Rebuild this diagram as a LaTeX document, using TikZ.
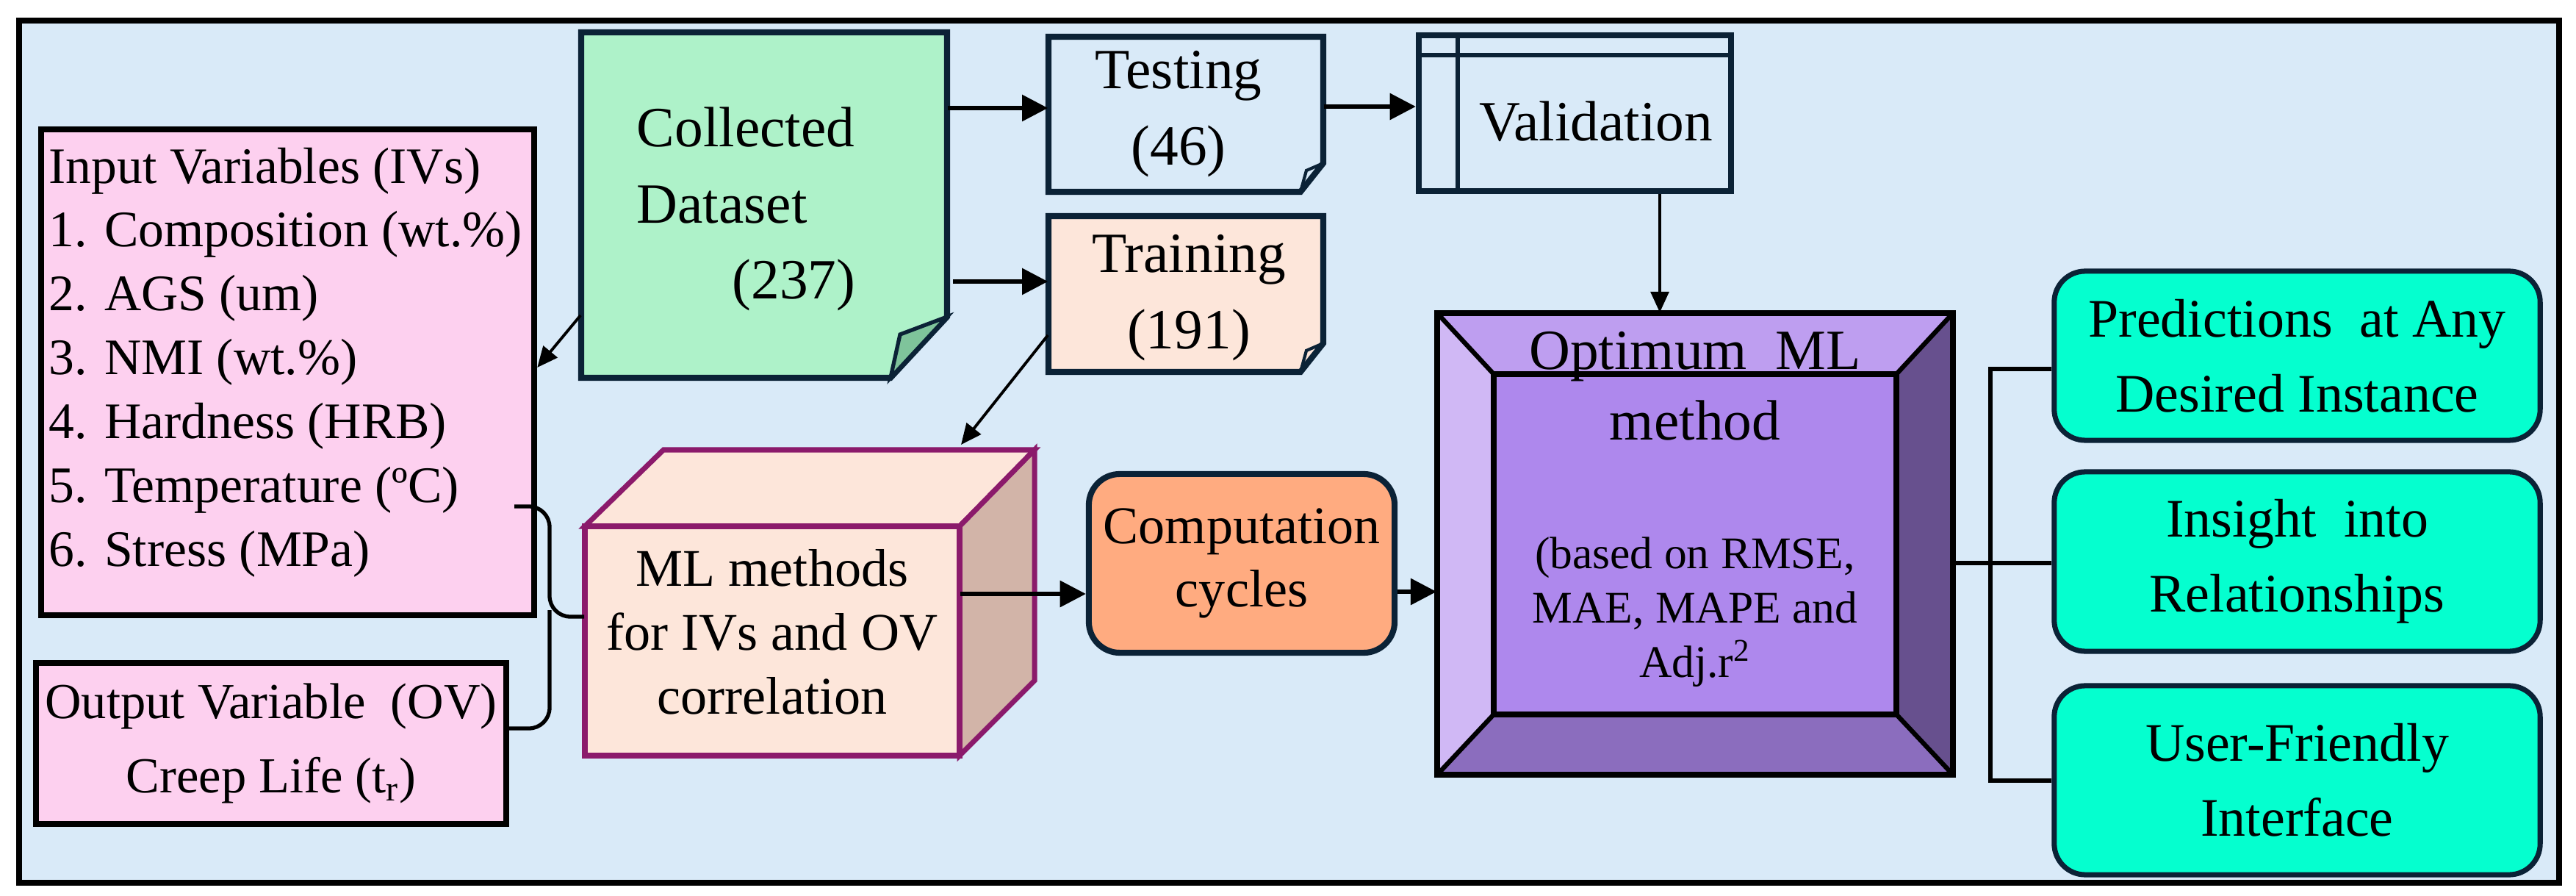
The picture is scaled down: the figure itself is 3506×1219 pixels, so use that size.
\documentclass[tikz,border=0pt]{standalone}
\usepackage{fontspec}
\setmainfont{Liberation Serif}
\usetikzlibrary{arrows.meta}
\definecolor{bg}{HTML}{D9EAF8}
\definecolor{navy}{HTML}{0B2236}
\definecolor{pinkb}{HTML}{FDD0EF}
\definecolor{greenb}{HTML}{AEF2C9}
\definecolor{greenf}{HTML}{7FC49B}
\definecolor{peach}{HTML}{FDE6DA}
\definecolor{peachside}{HTML}{D2B4A8}
\definecolor{cubeline}{HTML}{8B1A6B}
\definecolor{orangeb}{HTML}{FFAB80}
\definecolor{ptop}{HTML}{BE9EF0}
\definecolor{pleft}{HTML}{D0B8F5}
\definecolor{pright}{HTML}{67508E}
\definecolor{pbot}{HTML}{8B6DBE}
\definecolor{pin}{HTML}{AE88ED}
\definecolor{teal}{HTML}{05FFCF}
\begin{document}
\begin{tikzpicture}[x=0.01cm,y=-0.01cm,
  txt/.style={font=\fontsize{20}{24.7}\selectfont, align=center, inner sep=0pt},
  big/.style={font=\fontsize{22}{29.5}\selectfont, align=center, inner sep=0pt},
  blk/.style={draw=black, line width=2.3pt},
  nav/.style={draw=navy, line width=2.3pt},
  arr/.style={line width=1.6pt, -{Triangle[length=10pt,width=10pt]}},
  arrs/.style={line width=1.1pt, -{Triangle[length=8pt,width=7pt]}},
  conn/.style={line width=1.5pt},
  teal box/.style={draw=navy, line width=2pt, fill=teal, rounded corners=12pt, minimum width=6.61cm, big, font=\fontsize{21}{29}\selectfont}]
\useasboundingbox (0,0) rectangle (3506,1219);
\draw[line width=2.3pt, fill=bg] (26,28) rectangle (3483,1201);

% Input box
\node[blk, fill=pinkb, minimum width=6.71cm, minimum height=6.61cm] (in) at (391.5,506.5) {};
\node[anchor=north west, inner sep=0pt, align=left, font=\fontsize{19.8}{24.7}\selectfont] (intxt) at (66,200)
 {Input Variables (IVs)\\1. Composition (wt.\%)\\2. AGS (um)\\3. NMI (wt.\%)\\4. Hardness (HRB)\\5. Temperature (ºC)\\6. Stress (MPa)};

% Output box
\node[blk, fill=pinkb, minimum width=6.4cm, minimum height=2.19cm, txt, font=\fontsize{19.5}{28.5}\selectfont] (out) at (369,1011.5)
 {Output Variable~ (OV)\\Creep Life (t\textsubscript{r})};

% Collected dataset
\node[minimum width=4.98cm, minimum height=4.70cm, inner sep=0pt] (coll) at (1040,279) {};
\draw[nav, fill=greenb] (791,44) -- (1289,44) -- (1289,431) -- (1212,514) -- (791,514) -- cycle;
\draw[navy, line width=1.5pt, fill=greenf] (1289,431) -- (1225,455) -- (1212,514) -- cycle;
\node[anchor=north west, big, align=left] (colltxt) at (866,145) {Collected\\Dataset\\\hspace*{1.3cm}(237)};

% Testing
\node[minimum width=3.74cm, minimum height=2.11cm, inner sep=0pt] (test) at (1614,155.5) {};
\draw[nav, fill=bg] (1427,50) -- (1801,50) -- (1801,222) -- (1770,261) -- (1427,261) -- cycle;
\draw[navy, line width=1.2pt] (1801,222) -- (1778,232) -- (1770,261);
\node[big] (testtxt) at (1604,155) {Testing\\(46)};

% Training
\node[minimum width=3.74cm, minimum height=2.12cm, inner sep=0pt] (train) at (1614,400) {};
\draw[nav, fill=peach] (1427,294) -- (1801,294) -- (1801,467) -- (1770,506) -- (1427,506) -- cycle;
\draw[navy, line width=1.2pt] (1801,467) -- (1778,477) -- (1770,506);
\node[big] (traintxt) at (1618,405) {Training\\(191)};

% Validation
\node[nav, fill=bg, minimum width=4.25cm, minimum height=2.12cm] (valid) at (2143.5,154) {};
\draw[navy, line width=1.5pt] (1984,48) -- (1984,260);
\draw[navy, line width=1.5pt] (1931,75) -- (2356,75);
\node[big] (validtxt) at (2172,165) {Validation};

% Cube
\node[minimum width=5.1cm, minimum height=3.12cm, inner sep=0pt] (cube) at (1051,872) {};
\draw[cubeline, line width=2pt, fill=peach] (796,716) -- (903,612) -- (1408,612) -- (1306,716) -- cycle;
\draw[cubeline, line width=2pt, fill=peachside] (1306,716) -- (1408,612) -- (1408,926) -- (1306,1028) -- cycle;
\draw[cubeline, line width=2.3pt, fill=peach] (796,716) rectangle (1306,1028);
\node[txt, font=\fontsize{20.5}{24.8}\selectfont] (cubetxt) at (1051,860) {ML methods\\for IVs and OV\\correlation};

% Computation
\node[nav, fill=orangeb, rounded corners=12pt, minimum width=4.16cm, minimum height=2.43cm, txt, font=\fontsize{20.5}{24.5}\selectfont] (comp) at (1690,766.5) {Computation\\cycles};

% Optimum
\node[minimum width=7.02cm, minimum height=6.28cm, inner sep=0pt] (opt) at (2307,740) {};
\fill[ptop] (1956,426) -- (2658,426) -- (2581,509) -- (2033,509) -- cycle;
\fill[pleft] (1956,426) -- (2033,509) -- (2033,972) -- (1956,1054) -- cycle;
\fill[pright] (2658,426) -- (2581,509) -- (2581,972) -- (2658,1054) -- cycle;
\fill[pbot] (1956,1054) -- (2033,972) -- (2581,972) -- (2658,1054) -- cycle;
\draw[line width=2.3pt, fill=pin] (2033,509) rectangle (2581,972);
\draw[line width=1.8pt] (1956,426) -- (2033,509) (2658,426) -- (2581,509) (1956,1054) -- (2033,972) (2658,1054) -- (2581,972);
\draw[line width=2.3pt] (1956,426) rectangle (2658,1054);
\node[txt, font=\fontsize{22}{27.5}\selectfont, anchor=base] (optA) at (2307,599) {Optimum~ ML\\method};
\node[txt, font=\fontsize{17.5}{21}\selectfont, anchor=north] (optB) at (2307,730) {(based on RMSE,\\MAE, MAPE and\\Adj.r\textsuperscript{2}};

% Teal
\node[teal box, minimum height=2.30cm] (t1) at (3126.5,484) {Predictions~ at Any\\Desired Instance};
\node[teal box, minimum height=2.44cm] (t2) at (3126.5,764) {Insight~ into\\Relationships};
\node[teal box, minimum height=2.57cm] (t3) at (3126.5,1061.5) {User-Friendly\\Interface};

% Connectors
\draw[arr] (coll.east |- 0,147) -- (test.west |- 0,147);
\draw[arr] (1297,383) -- (train.west |- 0,383);
\draw[arr] (test.east |- 0,145) -- (valid.west |- 0,145);
\draw[arrs] (valid.south -| 2259,0) -- (opt.north -| 2259,0);
\draw[arrs] (train.west |- 0,456) -- (1308,605);
\draw[arrs] (coll.west |- 0,429) -- (in.east |- 0,500);
\draw[arr] (cube.east |- 0,808) -- (comp.west |- 0,808);
\draw[arr] (comp.east |- 0,805) -- (opt.west |- 0,805);

\coordinate (bx) at (2709,766);
\draw[conn] (opt.east |- bx) -- (t2.west |- bx);
\draw[conn] (t1.west |- 0,502) -- (2709,502) -- (2709,1062) -- (t3.west |- 0,1062);

% Brace
\coordinate (brc) at (796,839);
\draw[conn, rounded corners=8pt] (700,689) -- (748,689) -- (748,839) -- (cube.west |- brc);
\draw[conn, rounded corners=8pt] (out.east |- 0,991) -- (748,991) -- (748,830);
\end{tikzpicture}
\end{document}
